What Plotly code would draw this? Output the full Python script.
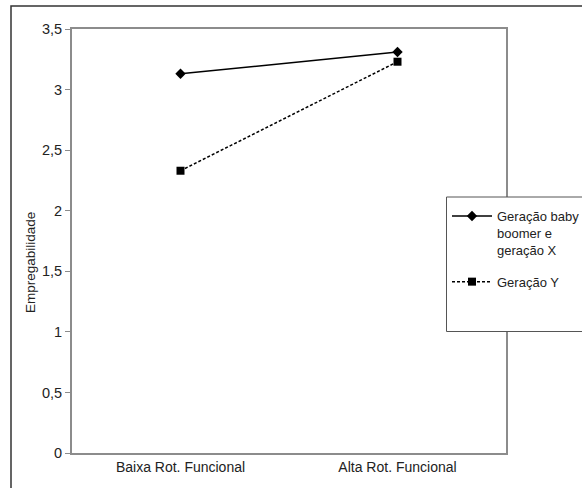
import plotly.graph_objects as go

categories = ["Baixa Rot. Funcional", "Alta Rot. Funcional"]
serie_boomer = [3.13, 3.31]
serie_y = [2.33, 3.23]
nome_boomer = "Geração baby<br>boomer e<br>geração X"
nome_y = "Geração Y"
titulo_y = "Empregabilidade"

L, R, T, B = 72, 76, 29, 35
W, H = 582, 488
pw, ph = W - L - R, H - T - B

def px_x(x):
    return (x - L) / pw

def px_y(y):
    return (H - B - y) / ph

fig = go.Figure()
fig.add_trace(go.Scatter(
    x=categories, y=serie_boomer, name=nome_boomer, mode="lines+markers",
    line=dict(color="black", width=1.5),
    marker=dict(symbol="diamond", size=8, color="black"),
    legendgroup="a"))
fig.add_trace(go.Scatter(
    x=categories, y=serie_y, name=nome_y, mode="lines+markers",
    line=dict(color="black", width=1.5, dash="3px,2px"),
    marker=dict(symbol="square", size=8, color="black"),
    legendgroup="b"))

gray = "#8c8c8c"
fig.update_layout(
    width=W, height=H,
    margin=dict(l=L, r=R, t=T, b=B, autoexpand=False),
    paper_bgcolor="white", plot_bgcolor="white",
    separators=", ",
    font=dict(family="Liberation Sans, Arial, sans-serif", size=14, color="#222"),
    showlegend=True,
    legend=dict(x=px_x(447), y=px_y(201), xanchor="left", yanchor="top",
                bgcolor="rgba(0,0,0,0)", borderwidth=0, valign="top",
                itemwidth=40, tracegroupgap=12, font=dict(size=13)),
    xaxis=dict(type="category", range=[-0.5, 1.5], showgrid=False,
               showline=True, linecolor=gray, linewidth=2, mirror=True,
               ticks="", tickfont=dict(size=14)),
    yaxis=dict(range=[0, 3.5], dtick=0.5, showgrid=False, zeroline=False,
               showline=True, linecolor=gray, linewidth=2, mirror=True,
               ticks="outside", ticklen=5, tickcolor=gray, tickwidth=1,
               tickfont=dict(size=14.5)),
    annotations=[
        dict(text=titulo_y, xref="paper", yref="paper",
             x=px_x(30), y=px_y(263), xanchor="center", yanchor="middle",
             textangle=-90, showarrow=False, font=dict(size=13.5)),
    ],
    shapes=[
        dict(type="rect", xref="paper", yref="paper",
             x0=px_x(11), x1=px_x(640), y0=px_y(520), y1=px_y(6),
             line=dict(color="#333", width=1.5), fillcolor="rgba(0,0,0,0)",
             layer="above"),
        dict(type="rect", xref="paper", yref="paper",
             x0=px_x(446.5), x1=px_x(640), y0=px_y(331.5), y1=px_y(197),
             line=dict(color="#555", width=1), fillcolor="white",
             layer="above"),
    ],
)

fig.write_html("out.html")
